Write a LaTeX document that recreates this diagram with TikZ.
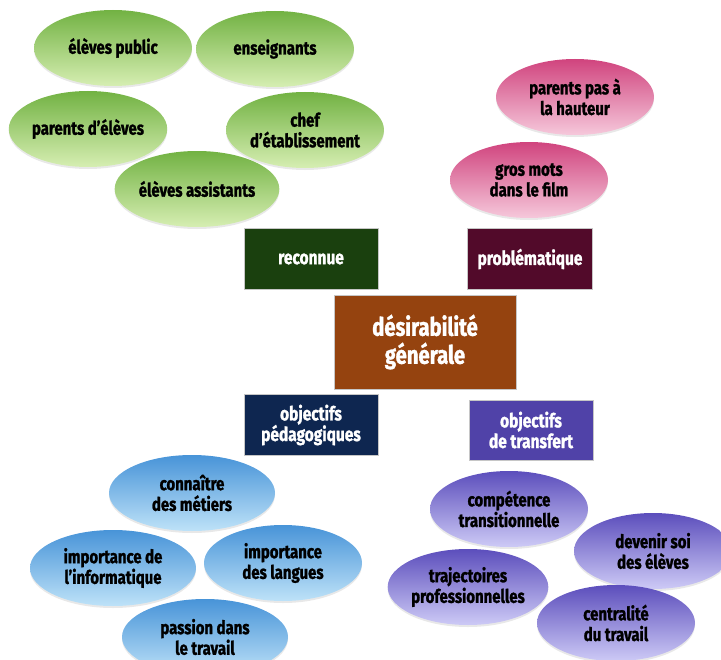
\documentclass[tikz,border=0pt]{standalone}
\usepackage{fontspec}
\setmainfont[FakeStretch=0.8, BoldFeatures={FakeBold=1.3}]{Fira Sans}
\usetikzlibrary{shapes.geometric,shadows}
\definecolor{gtop}{HTML}{72B243}
\definecolor{gbot}{HTML}{D6EEB2}
\definecolor{ptop}{HTML}{D0447E}
\definecolor{pbot}{HTML}{F6C8DB}
\definecolor{btop}{HTML}{4894D8}
\definecolor{bbot}{HTML}{BEE2F8}
\definecolor{vtop}{HTML}{5C4EBC}
\definecolor{vbot}{HTML}{CDCAF6}
\definecolor{rgreen}{HTML}{1A400E}
\definecolor{rwine}{HTML}{520A2A}
\definecolor{rbrown}{HTML}{95430F}
\definecolor{rnavy}{HTML}{0E2650}
\definecolor{rviolet}{HTML}{5042A8}
\tikzset{
  bubble/.style={ellipse, inner sep=0pt, minimum width=118.5pt, minimum height=57pt,
    align=center, font=\bfseries\fontsize{14}{15.5}\selectfont, text=black,
    drop shadow={opacity=0.18, shadow xshift=0pt, shadow yshift=-1.5pt}},
  wide/.style={minimum width=124.5pt},
  green/.style={bubble, top color=gtop, bottom color=gbot},
  pink/.style={bubble, top color=ptop, bottom color=pbot},
  blue/.style={bubble, wide, top color=btop, bottom color=bbot},
  violet/.style={bubble, top color=vtop, bottom color=vbot},
  box/.style={rectangle, inner sep=0pt, align=center, text=white,
    draw=gray!45, line width=0.4pt, minimum height=45.75pt,
    font=\bfseries\fontsize{14.5}{15.5}\selectfont},
}
\begin{document}
\begin{tikzpicture}[x=0.75pt,y=-0.75pt]
\useasboundingbox (0,0) rectangle (721,660);
\clip (0,0) rectangle (721,660);
% green
\node[green] (ep) at (113,48) {élèves public};
\node[green] (ens) at (275,49) {enseignants};
\node[green] (pe) at (88,129) {parents d’élèves};
\node[green] (chef) at (305,130) {chef\\d’établissement};
\node[green] (ea) at (197,189) {élèves assistants};
% pink
\node[pink] (pp) at (575,97) {parents pas à\\la hauteur};
\node[pink] (gm) at (529,180) {gros mots\\dans le film};
% boxes
\node[box, fill=rgreen, minimum width=100.5pt] (rec) at (311,259) {reconnue};
\node[box, fill=rwine, minimum width=93.75pt] (prob) at (530,259) {problématique};
\node[box, fill=rbrown, minimum width=136.5pt, minimum height=70.5pt,
      font=\bfseries\fontsize{19}{21}\selectfont] (des) at (425,342) {désirabilité\\générale};
\node[box, fill=rnavy, minimum width=100.5pt] (ped) at (311,425) {objectifs\\pédagogiques};
\node[box, fill=rviolet, minimum width=93pt, minimum height=45pt] (tra) at (531,430) {objectifs\\de transfert};
% blue
\node[blue] (con) at (192,493) {connaître\\des métiers};
\node[blue] (inf) at (113,568) {importance de\\l’informatique};
\node[blue, minimum width=118.5pt] (lan) at (283,563) {importance\\des langues};
\node[blue] (pas) at (205,637) {passion dans\\le travail};
% violet
\node[violet] (comp) at (509,509) {compétence\\transitionnelle};
\node[violet] (dev) at (653,551) {devenir soi\\des élèves};
\node[violet] (traj) at (468,587) {trajectoires\\professionnelles};
\node[violet] (cen) at (616,623) {centralité\\du travail};
\end{tikzpicture}
\end{document}
